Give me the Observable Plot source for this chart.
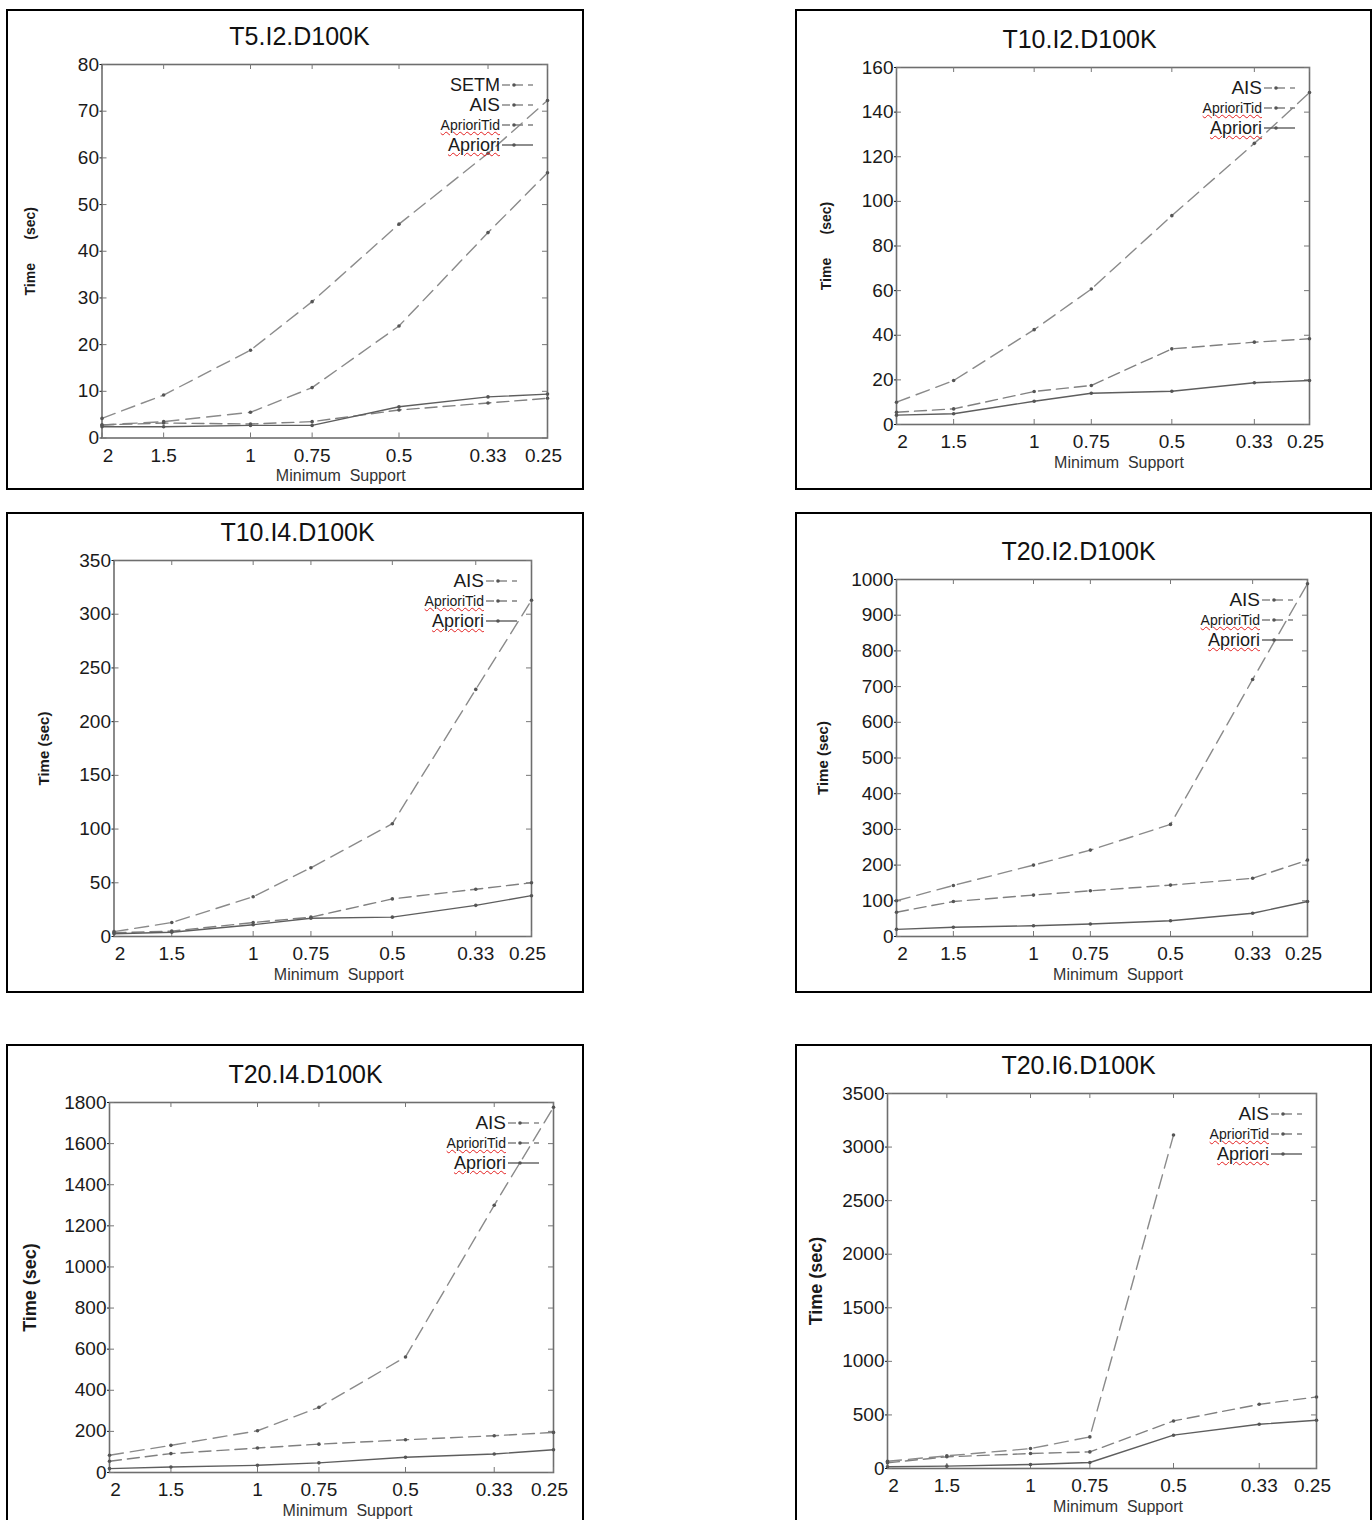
<!DOCTYPE html>
<html><head><meta charset="utf-8">
<script src="https://cdn.jsdelivr.net/npm/d3@7"></script>
<script src="https://cdn.jsdelivr.net/npm/@observablehq/plot@0.6"></script>
<style>
html,body{margin:0;padding:0;background:#fff;}
#page{position:relative;width:1372px;height:1520px;overflow:hidden;font-family:"Liberation Sans",Arial,sans-serif;}
.box{position:absolute;border:2px solid #000;box-sizing:border-box;}
.plotwrap{position:absolute;}
.plotwrap svg{max-width:none;}
.legend{position:absolute;display:flex;flex-direction:column;align-items:flex-end;}
.row{height:20px;display:flex;align-items:center;justify-content:flex-end;color:#1a1a1a;white-space:nowrap;line-height:20px;}
.row span{margin-right:2px;}
.wavy{text-decoration:underline wavy #e32020;text-decoration-thickness:1px;text-underline-offset:1px;}
</style></head><body><div id="page"></div>
<script>
// ---------- data ----------
const support = [2, 1.5, 1, 0.75, 0.5, 0.33, 0.25];
const supportLabels = ["2", "1.5", "1", "0.75", "0.5", "0.33", "0.25"];
const titles = ["T5.I2.D100K", "T10.I2.D100K", "T10.I4.D100K", "T20.I2.D100K", "T20.I4.D100K", "T20.I6.D100K"];
const yMaxes = [80, 160, 350, 1000, 1800, 3500];
const ySteps = [10, 20, 50, 100, 200, 500];

const setm_T5I2       = [4.2, 9.2, 18.8, 29.2, 45.8, 61, 72.3];
const ais_T5I2        = [2.8, 3.5, 5.5, 10.8, 24, 44, 56.8];
const aprioriTid_T5I2 = [2.8, 3.2, 3.0, 3.5, 6.0, 7.5, 8.5];
const apriori_T5I2    = [2.4, 2.4, 2.7, 2.7, 6.7, 8.8, 9.4];

const ais_T10I2        = [10, 19.7, 42.5, 60.7, 93.6, 126, 148.8];
const aprioriTid_T10I2 = [5.5, 7, 14.8, 17.5, 33.9, 36.9, 38.4];
const apriori_T10I2    = [4.2, 4.8, 10.4, 14, 14.9, 18.7, 19.7];

const ais_T10I4        = [4.5, 13, 37, 64, 105, 230, 313];
const aprioriTid_T10I4 = [3.5, 5, 13, 18, 35, 44, 50];
const apriori_T10I4    = [2.5, 4, 11, 17, 18, 29, 38];

const ais_T20I2        = [100, 143, 200, 242, 314, 720, 988];
const aprioriTid_T20I2 = [68, 98, 116, 128, 144, 163, 214];
const apriori_T20I2    = [20, 26, 30, 35, 44, 65, 98];

const ais_T20I4        = [84, 132, 203, 317, 562, 1300, 1777];
const aprioriTid_T20I4 = [55, 92, 119, 138, 159, 179, 195];
const apriori_T20I4    = [19, 27, 35, 47, 74, 90, 111];

const ais_T20I6        = [68, 118, 186, 295, 3112, null, null];
const aprioriTid_T20I6 = [53, 109, 140, 155, 444, 599, 668];
const apriori_T20I6    = [16, 22, 37, 56, 311, 413, 450];

const panelSeries = [
  [["SETM", setm_T5I2], ["AIS", ais_T5I2], ["AprioriTid", aprioriTid_T5I2], ["Apriori", apriori_T5I2]],
  [["AIS", ais_T10I2], ["AprioriTid", aprioriTid_T10I2], ["Apriori", apriori_T10I2]],
  [["AIS", ais_T10I4], ["AprioriTid", aprioriTid_T10I4], ["Apriori", apriori_T10I4]],
  [["AIS", ais_T20I2], ["AprioriTid", aprioriTid_T20I2], ["Apriori", apriori_T20I2]],
  [["AIS", ais_T20I4], ["AprioriTid", aprioriTid_T20I4], ["Apriori", apriori_T20I4]],
  [["AIS", ais_T20I6], ["AprioriTid", aprioriTid_T20I6], ["Apriori", apriori_T20I6]]
];
const yLabels = ["Time\u00a0\u00a0\u00a0\u00a0\u00a0\u00a0(sec)", "Time\u00a0\u00a0\u00a0\u00a0\u00a0\u00a0(sec)", "Time (sec)", "Time (sec)", "Time (sec)", "Time (sec)"];

// ---------- layout & styles ----------
const layout = [
  {box: [6, 9, 578, 481],    frame: [101.5, 64, 547, 437.5], titleX: 299,  yOff: 71, ySize: 14},
  {box: [795, 9, 577, 481],  frame: [896, 67, 1309, 424],    titleX: 1079, yOff: 70, ySize: 14},
  {box: [6, 512, 578, 481],  frame: [113.5, 560, 531, 936],  titleX: 297,  yOff: 70, ySize: 15},
  {box: [795, 512, 577, 481],frame: [896, 579, 1307, 936],   titleX: 1078, yOff: 73, ySize: 15},
  {box: [6, 1044, 578, 484], frame: [109, 1102, 553, 1472],  titleX: 305,  yOff: 79, ySize: 18},
  {box: [795, 1044, 577, 484],frame: [887, 1093, 1316, 1468],titleX: 1078, yOff: 71, ySize: 18}
];
const seriesStyle = {
  SETM:       {stroke: "#8c8c8c", dash: "14,7", legendDash: "8,5", size: 18},
  AIS:        {stroke: "#8a8a8a", dash: "14,7", legendDash: "8,5", size: 19},
  AprioriTid: {stroke: "#808080", dash: "12,6", legendDash: "8,5", size: 14, wavy: true},
  Apriori:    {stroke: "#5e5e5e", dash: null,   legendDash: null,  size: 18, wavy: true}
};
const FONT = '"Liberation Sans", Arial, sans-serif';
const ink = "#1a1a1a";
const tickFont = 19;

const page = document.getElementById("page");

layout.forEach((L, p) => {
  const [bx, by, bw, bh] = L.box;
  const [fl, ft, fr, fb] = L.frame;
  const fw = fr - fl, fh = fb - ft;
  const yTicks = d3.range(0, yMaxes[p] + 1e-9, ySteps[p]);
  const rows = panelSeries[p].flatMap(([name, vals]) =>
    vals.map((v, i) => ({series: name, x: support[i], y: v}))).filter(d => d.y != null);
  const xLab = support.map((s, i) => ({x: s, label: supportLabels[i], i}));
  const xTextOpts = {x: "x", text: "label", frameAnchor: "bottom", lineAnchor: "top", dy: 10, fontSize: tickFont, fill: ink};

  const marks = [
    Plot.frame({stroke: "#6e6e6e", strokeWidth: 1.6}),
    Plot.tickX(support, {x: d => d, insetTop: fh - 5, stroke: "#777"}),
    Plot.tickX(support, {x: d => d, insetBottom: fh - 5, stroke: "#777"}),
    Plot.tickY(yTicks, {y: d => d, insetLeft: fw - 5, stroke: "#777"}),
    Plot.tickY(yTicks, {y: d => d, insetRight: fw - 5, stroke: "#777"}),
    Plot.axisY(yTicks, {anchor: "left", tickSize: 2, tickPadding: 1, fontSize: tickFont, label: null, color: ink, tickFormat: d => String(d)}),
    Plot.text(xLab.filter(d => d.i > 0 && d.i < support.length - 1), xTextOpts),
    Plot.text(xLab.filter(d => d.i === 0), {...xTextOpts, dx: 6}),
    Plot.text(xLab.filter(d => d.i === support.length - 1), {...xTextOpts, dx: -4})
  ];
  panelSeries[p].forEach(([name]) => {
    const st = seriesStyle[name];
    const data = rows.filter(d => d.series === name);
    marks.push(Plot.line(data, {x: "x", y: "y", stroke: st.stroke, strokeWidth: 1.4, strokeDasharray: st.dash || undefined}));
    marks.push(Plot.dot(data, {x: "x", y: "y", r: 1.8, fill: "#555"}));
  });
  marks.push(
    Plot.text([titles[p]], {text: d => d, frameAnchor: "top", dy: -28, dx: L.titleX - (fl + fr) / 2, fontSize: 25, fill: "#111", lineAnchor: "middle", textAnchor: "middle"}),
    Plot.text(["Minimum\u00a0\u00a0Support"], {text: d => d, frameAnchor: "bottom", dy: 38, dx: 16, fontSize: 16, fill: "#333", lineAnchor: "middle", textAnchor: "middle", fontFamily: '"Liberation Sans Narrow", "Liberation Sans", Arial, sans-serif'}),
    Plot.text([yLabels[p]], {text: d => d, frameAnchor: "left", dx: -L.yOff, rotate: -90, fontSize: L.ySize, fontWeight: "bold", fill: ink, lineAnchor: "middle", textAnchor: "middle"})
  );

  const chart = Plot.plot({
    width: bw, height: bh,
    marginLeft: fl - bx, marginRight: bx + bw - fr,
    marginTop: ft - by, marginBottom: by + bh - fb,
    x: {type: "log", domain: [2, 0.25], axis: null, label: null},
    y: {domain: [0, yMaxes[p]], axis: null, label: null},
    style: {fontFamily: FONT, background: "none", overflow: "visible"},
    marks
  });

  const wrap = document.createElement("div");
  wrap.className = "plotwrap";
  wrap.style.left = bx + "px"; wrap.style.top = by + "px";
  wrap.appendChild(chart);
  page.appendChild(wrap);

  const box = document.createElement("div");
  box.className = "box";
  Object.assign(box.style, {left: bx + "px", top: by + "px", width: bw + "px", height: bh + "px"});
  page.appendChild(box);

  // legend overlay
  const leg = document.createElement("div");
  leg.className = "legend";
  Object.assign(leg.style, {left: (fr - 300) + "px", top: (ft + 11) + "px", width: (300 - 14) + "px"});
  panelSeries[p].forEach(([name]) => {
    const st = seriesStyle[name];
    const row = document.createElement("div");
    row.className = "row";
    const span = document.createElement("span");
    span.textContent = name;
    span.style.fontSize = st.size + "px";
    if (st.wavy) span.className = "wavy";
    row.appendChild(span);
    const svg = d3.create("svg").attr("width", 31).attr("height", 10);
    svg.append("line").attr("x1", 0).attr("x2", 31).attr("y1", 5).attr("y2", 5)
      .attr("stroke", st.stroke).attr("stroke-width", 1.4)
      .attr("stroke-dasharray", st.legendDash);
    svg.append("circle").attr("cx", 12).attr("cy", 5).attr("r", 1.8).attr("fill", "#555");
    row.appendChild(svg.node());
    leg.appendChild(row);
  });
  page.appendChild(leg);
});
</script></body></html>
